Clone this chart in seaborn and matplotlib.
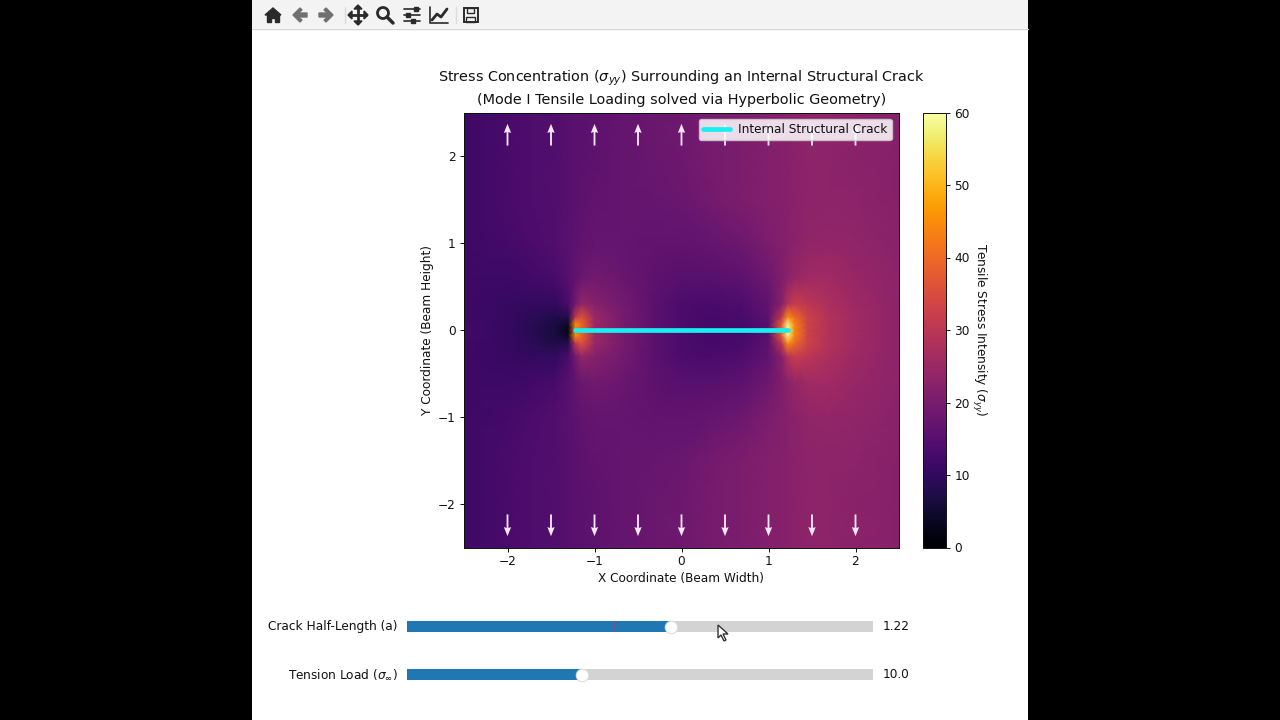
import numpy as np
import matplotlib
matplotlib.use("Agg")
import matplotlib.pyplot as plt
from matplotlib.patches import Rectangle, Polygon, Circle
import seaborn as sns
import pandas as pd

# stress field, upper half only (the plot mirrors about y=0)
x_nodes = [-2.5, -2, -1.7, -1.45, -1.3, -1.22, -1.15, -1, -0.7, -0.3, 0,
           0.3, 0.7, 1, 1.15, 1.22, 1.3, 1.45, 1.7, 2, 2.5]
y_upper = [0, 0.06, 0.15, 0.3, 0.6, 1.0, 1.5, 2.0, 2.5]
row_y0 = [12, 10.5, 8.5, 6.5, 3, 40, 38, 24, 20, 15.5, 13.5, 12.5, 12.5, 15, 38, 58, 44, 33, 28.5, 26, 23]
row_y006 = [12, 10.5, 8.5, 6.5, 4, 46, 40, 25, 20, 15.5, 13.5, 12.5, 12.5, 15, 38, 58, 44, 33, 28.5, 26, 23]
row_y015 = [11.5, 10.5, 9, 7.5, 8, 30, 36, 25, 20, 15.5, 13.5, 12.5, 13, 16, 30, 45, 40, 33, 28.5, 26, 23]
row_y03 = [11.5, 10.5, 10, 10, 13.5, 19, 24, 22, 19.5, 15.5, 13.5, 13, 14, 16.5, 22, 29, 32, 30, 27.5, 25.5, 23]
row_y06 = [11.5, 11.5, 12, 13, 15, 16.5, 18, 19, 18, 16, 15, 15, 16, 18.5, 21, 22.5, 24, 26, 26, 24.5, 23]
row_y10 = [11.5, 12.5, 13.5, 14.5, 15.5, 16, 16.5, 17, 17, 16.5, 16.5, 17, 18.5, 20.5, 21.5, 22, 22.5, 23.5, 24, 23.5, 22.5]
row_y15 = [11.5, 13, 14, 14.5, 15, 15.5, 16, 16.5, 17, 17.5, 18, 19, 20.5, 21.5, 22, 22, 22.5, 23, 23, 23, 22]
row_y20 = [11.5, 13, 14, 14.5, 15, 15.5, 15.5, 16, 17, 18, 18.5, 19.5, 20.5, 21.5, 22, 22, 22.5, 23, 23, 22.5, 22]
row_y25 = [11.5, 13, 14, 14.5, 15, 15.5, 15.5, 16, 17, 18, 18.5, 19.5, 20.5, 21.5, 22, 22, 22.5, 23, 23, 22.5, 22]

arrow_x = [-2, -1.5, -1, -0.5, 0, 0.5, 1, 1.5, 2]
crack_half = 1.22

slider_labels = ["Crack Half-Length (a)", r"Tension Load ($\sigma_{\infty}$)"]
slider_values = [1.22, 10.0]
slider_text = ["1.22", "10.0"]
slider_min = [0.2, 1]
slider_max = [2.0, 25]
slider_init = [1.0, 10.0]

W, H = 1280, 720
FS = 8.7
sns.set_style("ticks", {"text.color": "#111111", "axes.labelcolor": "#111111",
                        "xtick.color": "#111111", "ytick.color": "#111111",
                        "axes.edgecolor": "#111111"})
plt.rcParams["font.family"] = ["DejaVu Sans"]
plt.rcParams["font.size"] = FS
plt.rcParams["mathtext.fontset"] = "dejavusans"
plt.rcParams["axes.linewidth"] = 0.7
plt.rcParams["xtick.major.size"] = 3
plt.rcParams["ytick.major.size"] = 3
plt.rcParams["xtick.major.width"] = 0.7
plt.rcParams["ytick.major.width"] = 0.7
plt.rcParams["xtick.major.pad"] = 2.5
plt.rcParams["ytick.major.pad"] = 3
plt.rcParams["xtick.labelsize"] = FS
plt.rcParams["ytick.labelsize"] = FS


def px_axes(fig, left, top, right, bottom, **kw):
    # axes placed by pixel box
    return fig.add_axes([left / W, 1 - bottom / H, (right - left) / W, (bottom - top) / H], **kw)


fig = plt.figure(figsize=(W / 100, H / 100), dpi=100, facecolor="black")

# white window with toolbar, in pixel coordinates
bg = px_axes(fig, 0, 0, W, H)
bg.set_xlim(0, W)
bg.set_ylim(H, 0)
bg.axis("off")
bg.add_patch(Rectangle((252, 0), 776, 720, fc="white", ec="none"))
bg.add_patch(Rectangle((252, 0), 776, 28, fc="#f3f3f3", ec="none"))
bg.plot([252, 1028], [28.5, 28.5], color="#d4d4d4", lw=1)

ic = "#2a2a2a"
ig = "#707070"
# home
bg.add_patch(Polygon([[265, 15], [273, 8], [281, 15]], fc=ic, ec=ic))
bg.add_patch(Polygon([[267, 15], [279, 15], [279, 22], [275, 22], [275, 18], [271, 18], [271, 22], [267, 22]], fc=ic, ec=ic))
# back / forward
bg.add_patch(Polygon([[293, 15], [300, 8], [302, 10], [298, 13], [307, 13], [307, 17], [298, 17], [302, 20], [300, 22]], fc=ig, ec=ig))
bg.add_patch(Polygon([[333, 15], [326, 8], [324, 10], [328, 13], [319, 13], [319, 17], [328, 17], [324, 20], [326, 22]], fc=ig, ec=ig))
bg.plot([345, 345], [7, 23], color="#dcdcdc", lw=1)
# pan
bg.plot([358, 358], [7, 23], color=ic, lw=2)
bg.plot([350, 366], [15, 15], color=ic, lw=2)
bg.add_patch(Polygon([[358, 5], [354, 9], [362, 9]], fc=ic, ec=ic))
bg.add_patch(Polygon([[358, 25], [354, 21], [362, 21]], fc=ic, ec=ic))
bg.add_patch(Polygon([[348, 15], [352, 11], [352, 19]], fc=ic, ec=ic))
bg.add_patch(Polygon([[368, 15], [364, 11], [364, 19]], fc=ic, ec=ic))
# zoom
bg.add_patch(Circle((383, 13), 5.5, fc="none", ec=ic, lw=2))
bg.plot([387, 393], [17, 23], color=ic, lw=2.5)
# subplots
for yy, xx in zip([9, 15, 21], [416, 408, 413]):
    bg.plot([404, 420], [yy, yy], color=ic, lw=1.2)
    bg.add_patch(Rectangle((xx - 2, yy - 2), 4, 4, fc=ic, ec=ic))
# lines
bg.plot([430, 430, 448], [7, 23, 23], color=ic, lw=1.2)
bg.plot([432, 437, 441, 447], [20, 14, 17, 9], color=ic, lw=2)
bg.plot([456, 456], [7, 23], color="#dcdcdc", lw=1)
# save
bg.add_patch(Rectangle((463.5, 8), 14, 14, fc="none", ec=ic, lw=1.4))
bg.add_patch(Rectangle((467, 8), 7, 5, fc="none", ec=ic, lw=1))
bg.add_patch(Rectangle((466, 17), 9, 5, fc="none", ec=ic, lw=1))

# field
upper = np.array([row_y0, row_y006, row_y015, row_y03, row_y06, row_y10, row_y15, row_y20, row_y25])
sigma = np.vstack([upper[:0:-1], upper])
y_nodes = [-v for v in y_upper[:0:-1]] + y_upper

ax = px_axes(fig, 464, 112.5, 899, 547.5)
mesh = ax.pcolormesh(x_nodes, y_nodes, sigma, shading="gouraud",
                     cmap=sns.color_palette("inferno", as_cmap=True), vmin=0, vmax=60)
ax.plot([-crack_half, crack_half], [0, 0], color="#19eef0", lw=3.4, label="Internal Structural Crack")

n = len(arrow_x)
ax.quiver(arrow_x, [2.12] * n, [0] * n, [0.25] * n, color="#fbe6fb", angles="xy",
          scale_units="xy", scale=1, width=0.0042, headwidth=4, headlength=5)
ax.quiver(arrow_x, [-2.12] * n, [0] * n, [-0.25] * n, color="#fbe6fb", angles="xy",
          scale_units="xy", scale=1, width=0.0042, headwidth=4, headlength=5)

ax.set_xlim(-2.5, 2.5)
ax.set_ylim(-2.5, 2.5)
ax.set_xticks([-2, -1, 0, 1, 2])
ax.set_yticks([-2, -1, 0, 1, 2])
ax.set_xlabel("X Coordinate (Beam Width)", fontsize=FS, labelpad=3)
ax.set_ylabel("Y Coordinate (Beam Height)", fontsize=FS, labelpad=3)
ax.set_title("Stress Concentration ($\\sigma_{yy}$) Surrounding an Internal Structural Crack\n"
             "(Mode I Tensile Loading solved via Hyperbolic Geometry)", fontsize=10.4, pad=6, linespacing=1.45)
ax.legend(loc="upper right", bbox_to_anchor=(0.997, 0.999), facecolor="white", framealpha=0.85,
          fontsize=FS, handlelength=2.2, borderpad=0.35, handletextpad=0.7)

cax = px_axes(fig, 923, 112.5, 946, 547.5)
cbar = fig.colorbar(mesh, cax=cax)
cbar.set_ticks([0, 10, 20, 30, 40, 50, 60])
cbar.set_label("Tensile Stress Intensity ($\\sigma_{yy}$)", rotation=270, labelpad=13, fontsize=FS)

# sliders drawn as one horizontal bar on a grey track
for i, top in enumerate([621, 669]):
    sl = px_axes(fig, 407, top, 873, top + 11, facecolor="#d3d3d3")
    frame = pd.DataFrame({"label": [slider_labels[i]], "value": [slider_values[i]]})
    sns.barplot(data=frame, x="value", y="label", orient="h", color="#1f77b4",
                saturation=1, width=1, ax=sl, left=0)
    sl.set_xlim(slider_min[i], slider_max[i])
    sl.set_ylim(-0.3, 0.3)
    sl.set_xlabel("")
    sl.set_ylabel("")
    sl.set_xticks([])
    sl.set_yticks([])
    for s in sl.spines.values():
        s.set_visible(False)
    sl.axvline(slider_init[i], color="#8a4a86", lw=1, alpha=0.8)
    sl.plot([slider_values[i]], [0], "o", ms=9, mfc="white", mec="#dddddd", mew=0.8, clip_on=False, zorder=5)
    sl.text(-0.02, 0.5, slider_labels[i], transform=sl.transAxes, ha="right", va="center", fontsize=FS)
    sl.text(1.02, 0.5, slider_text[i], transform=sl.transAxes, ha="left", va="center", fontsize=FS)

# mouse pointer
top_ax = px_axes(fig, 0, 0, W, H)
top_ax.set_xlim(0, W)
top_ax.set_ylim(H, 0)
top_ax.axis("off")
top_ax.add_patch(Polygon([[718, 625], [718, 638], [721, 635], [724, 641], [726, 640], [723, 634], [728, 634]],
                         fc="white", ec="#333333", lw=1))

fig.savefig("out.png", dpi=100, facecolor="black")
